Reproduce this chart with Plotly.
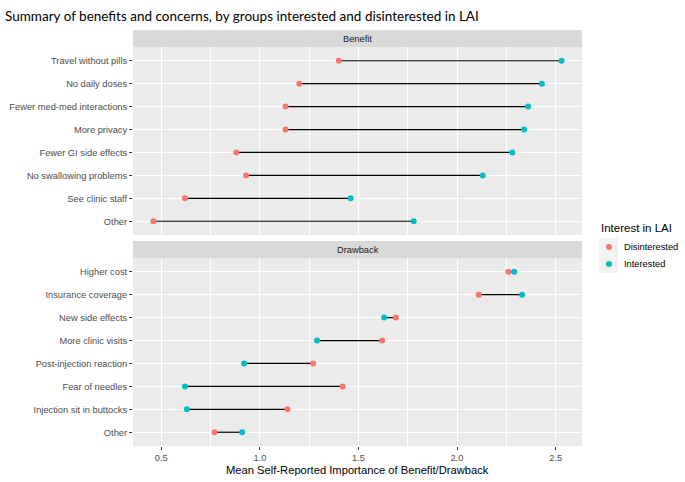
import plotly.graph_objects as go

# ---- data ----
benefit_cats = ["Travel without pills", "No daily doses", "Fewer med-med interactions",
                "More privacy", "Fewer GI side effects", "No swallowing problems",
                "See clinic staff", "Other"]
benefit_disinterested = [1.40, 1.20, 1.13, 1.13, 0.88, 0.93, 0.62, 0.46]
benefit_interested = [2.53, 2.43, 2.36, 2.34, 2.28, 2.13, 1.46, 1.78]

drawback_cats = ["Higher cost", "Insurance coverage", "New side effects",
                 "More clinic visits", "Post-injection reaction", "Fear of needles",
                 "Injection sit in buttocks", "Other"]
drawback_disinterested = [2.26, 2.11, 1.69, 1.62, 1.27, 1.42, 1.14, 0.77]
drawback_interested = [2.29, 2.33, 1.63, 1.29, 0.92, 0.62, 0.63, 0.91]

x_ticks = [0.5, 1.0, 1.5, 2.0, 2.5]
x_tick_labels = ["0.5", "1.0", "1.5", "2.0", "2.5"]

groups = ["Disinterested", "Interested"]

RED = "#F8766D"
TEAL = "#00BFC4"
PANEL = "#EBEBEB"
STRIP = "#D9D9D9"
FONT = "Liberation Sans, Arial, sans-serif"
TITLE_FONT = "Lato, Liberation Sans, sans-serif"

W, H = 685, 482
ML, MR, MT, MB = 133, 103, 47, 36
plot_w = W - ML - MR
plot_h = H - MT - MB
p1_bottom_px = 235
p2_top_px = 258
dom1 = [(H - MB - p1_bottom_px) / plot_h, 1.0]
dom2 = [0.0, (H - MB - p2_top_px) / plot_h]
strip_h = 17 / plot_h


def px_x(px):
    return (px - ML) / plot_w


def px_y(py):
    return (H - MB - py) / plot_h


fig = go.Figure()


def add_facet(cats, dis, intr, xa, ya):
    lx, ly = [], []
    for c, d, i in zip(cats, dis, intr):
        lx += [d, i, None]
        ly += [c, c, None]
    fig.add_trace(go.Scatter(x=lx, y=ly, mode="lines", line=dict(color="black", width=1.2),
                             xaxis=xa, yaxis=ya, showlegend=False, hoverinfo="skip"))
    fig.add_trace(go.Scatter(x=dis, y=cats, mode="markers", name=groups[0],
                             marker=dict(color=RED, size=6), xaxis=xa, yaxis=ya,
                             showlegend=False))
    fig.add_trace(go.Scatter(x=intr, y=cats, mode="markers", name=groups[1],
                             marker=dict(color=TEAL, size=6), xaxis=xa, yaxis=ya,
                             showlegend=False))


add_facet(benefit_cats, benefit_disinterested, benefit_interested, "x", "y")
add_facet(drawback_cats, drawback_disinterested, drawback_interested, "x2", "y2")

allv = benefit_disinterested + benefit_interested + drawback_disinterested + drawback_interested
lo, hi = min(allv), max(allv)
pad = 0.05 * (hi - lo)
xr = [lo - pad, hi + pad]

xcommon = dict(range=xr, tickvals=x_ticks, ticktext=x_tick_labels, showgrid=True,
               gridcolor="white", gridwidth=1.1, zeroline=False, showline=False,
               automargin=False,
               minor=dict(dtick=0.25, tick0=0, showgrid=True, gridcolor="white", gridwidth=0.5),
               tickfont=dict(family=FONT, size=9.3, color="#4D4D4D"))
ycommon = dict(type="category", showgrid=True, gridcolor="white", gridwidth=1.1,
               zeroline=False, showline=False, ticks="outside", ticklen=3,
               tickcolor="#333333", tickwidth=1, automargin=False,
               tickfont=dict(family=FONT, size=9.3, color="#4D4D4D"))

fig.update_layout(
    width=W, height=H,
    margin=dict(l=ML, r=MR, t=MT, b=MB, autoexpand=False),
    paper_bgcolor="white", plot_bgcolor=PANEL,
    xaxis=dict(**xcommon, domain=[0, 1], anchor="y", showticklabels=False, ticks=""),
    yaxis=dict(**ycommon, domain=dom1, anchor="x", categoryorder="array",
               categoryarray=benefit_cats, range=[len(benefit_cats) - 0.4, -0.6]),
    xaxis2=dict(**xcommon, domain=[0, 1], anchor="y2", matches="x", ticks="outside",
                ticklen=3, tickcolor="#333333", tickwidth=1),
    yaxis2=dict(**ycommon, domain=dom2, anchor="x2", categoryorder="array",
                categoryarray=drawback_cats, range=[len(drawback_cats) - 0.4, -0.6]),
    showlegend=False,
    title=dict(text="Summary of benefits and concerns, by groups interested and disinterested in LAI",
               x=5 / W, xanchor="left", xref="container", y=1 - 16 / H, yanchor="middle",
               yref="container", font=dict(family=TITLE_FONT, size=13.5, color="black")),
)

# facet strips
for y0, label in [(dom1[1], "Benefit"), (dom2[1], "Drawback")]:
    fig.add_shape(type="rect", xref="paper", yref="paper", x0=0, x1=1, y0=y0,
                  y1=y0 + strip_h, fillcolor=STRIP, line=dict(width=0), layer="below")
    fig.add_annotation(text=label, xref="paper", yref="paper", x=0.5, y=y0 + strip_h / 2,
                       showarrow=False, xanchor="center", yanchor="middle",
                       font=dict(family=FONT, size=9.3, color="#1A1A1A"))

# x axis title
fig.add_annotation(text="Mean Self-Reported Importance of Benefit/Drawback", xref="paper", yref="paper",
                   x=0.5, y=px_y(470), showarrow=False, xanchor="center", yanchor="middle",
                   font=dict(family=FONT, size=11.2, color="black"))

# legend (ggplot-style guide)
fig.add_annotation(text="Interest in LAI", xref="paper", yref="paper", x=px_x(599), y=px_y(228),
                   showarrow=False, xanchor="left", yanchor="middle",
                   font=dict(family=FONT, size=11.5, color="black"))
fig.add_shape(type="rect", xref="paper", yref="paper",
              x0=px_x(599), x1=px_x(618), y0=px_y(273), y1=px_y(238),
              fillcolor="#F2F2F2", line=dict(width=0), layer="below")
for gname, col, cy in [(groups[0], RED, 247), (groups[1], TEAL, 264)]:
    fig.add_shape(type="circle", xref="paper", yref="paper",
                  x0=px_x(606), x1=px_x(612), y0=px_y(cy + 3), y1=px_y(cy - 3),
                  fillcolor=col, line=dict(width=0))
    fig.add_annotation(text=gname, xref="paper", yref="paper", x=px_x(622), y=px_y(cy),
                       showarrow=False, xanchor="left", yanchor="middle",
                       font=dict(family=FONT, size=9.3, color="black"))

fig.write_html("out.html", config={"displayModeBar": False},
               post_script="document.body.style.margin='0';")
